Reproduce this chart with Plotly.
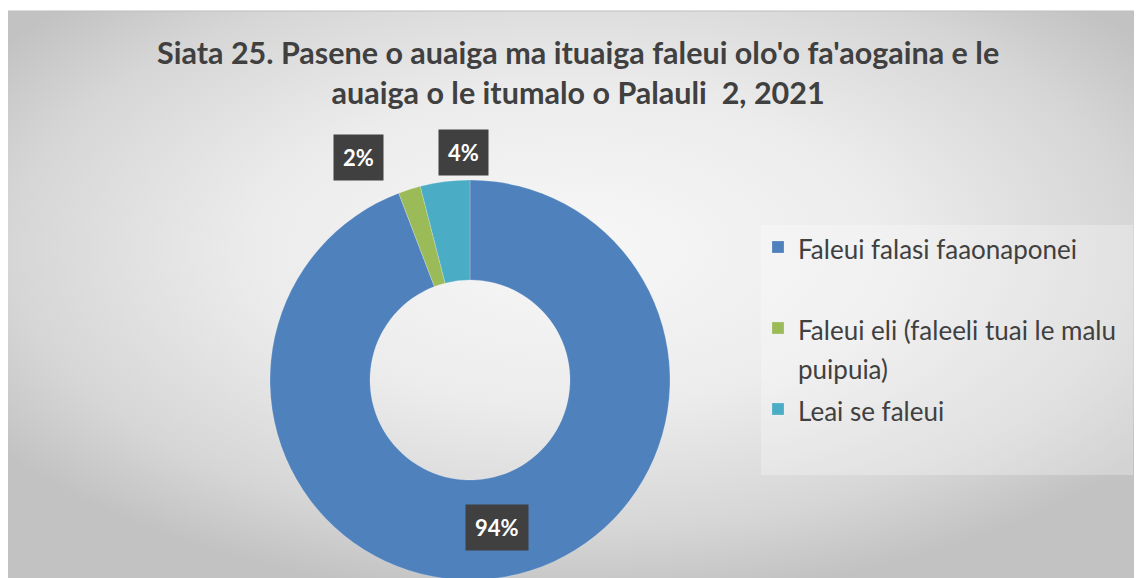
import base64, math
import plotly.graph_objects as go

# ---- data ----
labels = ["Faleui falasi faaonaponei",
          "Faleui eli (faleeli tuai le malu<br>puipuia)",
          "Leai se faleui"]
values = [94.2, 1.8, 4.0]
colors = ["#4F81BD", "#9BBB59", "#4BACC6"]
title_lines = ["Siata 25. Pasene o auaiga ma ituaiga faleui olo'o fa'aogaina e le",
               "auaiga o le itumalo o Palauli  2, 2021"]

W, H = 1142, 578
OFF = 8  # page body margin offset
FONT = "Lato"
TXT = "#404040"


def px2x(px):
    return (px - OFF) / W


def px2y(py):
    return 1 - (py - OFF) / H


# legend entries (first one padded to mimic the spacing of the original legend)
legend_names = ['<span style="font-size:26px">' + lab + '</span>' for lab in labels]
legend_names[0] += "<br> "

# ---- background gradient (style only) ----
svg = '''<svg xmlns="http://www.w3.org/2000/svg" width="1135" height="567" viewBox="0 0 1135 567" preserveAspectRatio="none">
<defs><radialGradient id="g" cx="0.5" cy="0.42" r="0.62">
<stop offset="0" stop-color="#f7f7f7"/><stop offset="0.45" stop-color="#ececec"/>
<stop offset="0.8" stop-color="#d6d6d6"/><stop offset="1" stop-color="#c2c2c2"/></radialGradient></defs>
<rect x="0" y="0" width="1135" height="567" fill="url(#g)"/></svg>'''
src = "data:image/svg+xml;base64," + base64.b64encode(svg.encode()).decode()

dom_x = [px2x(270), px2x(670)]
dom_y = [px2y(580), px2y(180)]

fig = go.Figure(go.Pie(
    labels=legend_names, values=values, hole=0.5, sort=False,
    direction="clockwise", rotation=0,
    marker=dict(colors=colors, line=dict(color="rgba(255,255,255,0.35)", width=0.6)),
    textinfo="none", hoverinfo="percent",
    domain=dict(x=dom_x, y=dom_y),
))

# label positions derived from the pie geometry and values
cx = (dom_x[0] + dom_x[1]) / 2 * W + OFF
cy = (1 - (dom_y[0] + dom_y[1]) / 2) * H + OFF
R = min((dom_x[1] - dom_x[0]) * W, (dom_y[1] - dom_y[0]) * H) / 2
total = sum(values)
label_style = [  # (radius factor, angular nudge in degrees)
    (0.75, 0.0),
    (1.245, -9.0),
    (1.14, 5.5),
]
cum = 0.0
annotations = []
for v, (rf, nudge) in zip(values, label_style):
    mid = (cum + v / 2) / total * 360.0 + nudge
    cum += v
    a = math.radians(mid)
    px = cx + rf * R * math.sin(a)
    py = cy - rf * R * math.cos(a)
    annotations.append(dict(
        x=px2x(px), y=px2y(py), xref="paper", yref="paper",
        text=f"<b>{round(v / total * 100)}%</b>", showarrow=False,
        borderpad=9, xanchor="center", yanchor="middle", bgcolor="#404040",
        font=dict(family=FONT, size=22, color="white")))

annotations.append(dict(
    x=px2x(578), y=px2y(72), xref="paper", yref="paper",
    text="<b>" + "<br>".join(title_lines) + "</b>", showarrow=False,
    font=dict(family=FONT, size=30.5, color=TXT), align="center",
    xanchor="center", yanchor="middle"))

fig.update_layout(
    width=W, height=H, margin=dict(l=0, r=0, t=0, b=0),
    paper_bgcolor="white", plot_bgcolor="white",
    font=dict(family=FONT, color=TXT),
    images=[dict(source=src, xref="paper", yref="paper", x=px2x(7), y=px2y(11),
                 sizex=(W - 7) / W, sizey=(H - 11) / H, sizing="stretch",
                 xanchor="left", yanchor="top", layer="below")],
    shapes=[dict(type="rect", xref="paper", yref="paper",
                 x0=px2x(761), x1=px2x(1133), y0=px2y(475), y1=px2y(225),
                 fillcolor="rgba(255,255,255,0.28)", line=dict(width=0), layer="below"),
            dict(type="line", xref="paper", yref="paper", x0=px2x(7), x1=1,
                 y0=px2y(11), y1=px2y(11), line=dict(color="#bdbdbd", width=1))],
    annotations=annotations,
    showlegend=True,
    legend=dict(x=px2x(758), y=px2y(221), xanchor="left", yanchor="top",
                bgcolor="rgba(0,0,0,0)", font=dict(family=FONT, size=30, color=TXT),
                valign="top", itemwidth=30, traceorder="normal"),
)

fig.write_html("out.html")
